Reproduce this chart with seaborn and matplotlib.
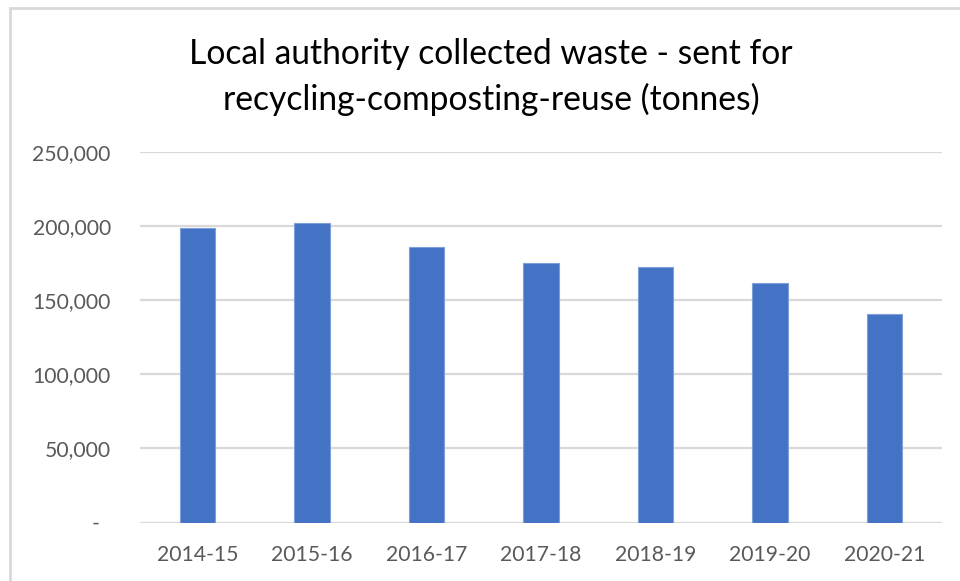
import matplotlib
matplotlib.use("Agg")
import matplotlib.pyplot as plt
import seaborn as sns
import pandas as pd
from matplotlib.patches import Rectangle

categories = ["2014-15", "2015-16", "2016-17", "2017-18", "2018-19", "2019-20", "2020-21"]
tonnes = [198900, 202400, 185800, 175400, 172700, 161500, 140800]
ytick_values = [0, 50000, 100000, 150000, 200000, 250000]
ytick_labels = ["-  ", "50,000", "100,000", "150,000", "200,000", "250,000"]
title_text = "Local authority collected waste - sent for\nrecycling-composting-reuse (tonnes)"

sns.set_theme(style="white")
plt.rcParams["font.family"] = ["Lato", "DejaVu Sans"]

df = pd.DataFrame({"year": categories, "tonnes": tonnes})

fig = plt.figure(figsize=(9.6, 5.81), dpi=100)
# chart border
fig.patches.append(Rectangle((10 / 960, -0.05), 1.0, (581 - 8) / 581 + 0.05,
                             transform=fig.transFigure, fill=False,
                             edgecolor="#D9D9D9", linewidth=2.0))

ax = fig.add_axes([140 / 960, 1 - 522.5 / 581, (942 - 140) / 960, (522.5 - 152) / 581])
sns.barplot(data=df, x="year", y="tonnes", color="#4472C4", width=0.31,
            saturation=1, edgecolor="#7F9FD8", linewidth=0.8, ax=ax, zorder=3)

ax.set_ylim(0, 250000)
ax.set_xlim(-0.5, len(categories) - 0.5)
ax.set_yticks(ytick_values)
ax.set_yticklabels(ytick_labels)
ax.yaxis.grid(True, color="#D9D9D9", linewidth=1.6, zorder=0)
ax.set_axisbelow(True)
for s in ax.spines.values():
    s.set_visible(False)
ax.tick_params(axis="y", length=0, pad=21, labelsize=15.2, labelcolor="#595959")
ax.tick_params(axis="x", length=0, pad=16, labelsize=15.2, labelcolor="#595959")
ax.set_xlabel("")
ax.set_ylabel("")

fig.text(491 / 960, 1 - 77 / 581, title_text, ha="center", va="center",
         fontsize=24.2, color="#000000", linespacing=1.48)

fig.savefig("out.png", dpi=100)
